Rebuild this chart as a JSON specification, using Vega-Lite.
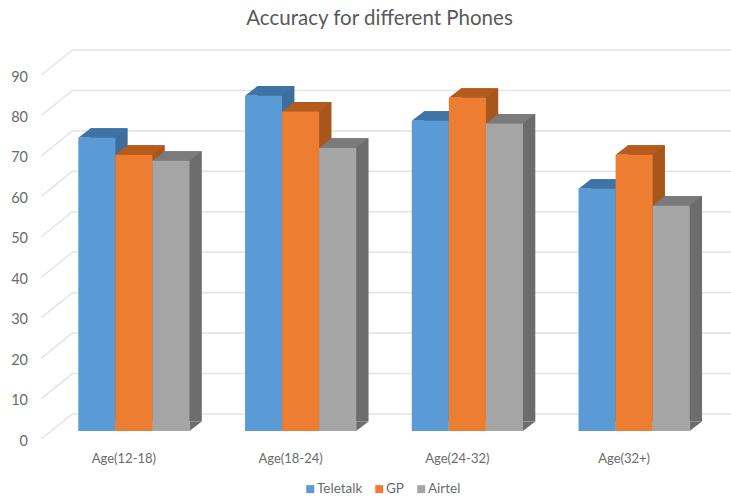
{
  "$schema": "https://vega.github.io/schema/vega-lite/v6.json",
  "width": 667,
  "height": 364,
  "autosize": {"type": "none"},
  "padding": {"left": 50.5, "top": 67, "right": 13.5, "bottom": 66},
  "background": "white",
  "config": {"view": {"stroke": null}, "font": "Lato"},
  "title": {
    "text": "Accuracy for different Phones",
    "font": "Lato",
    "fontSize": 20.5,
    "fontWeight": "normal",
    "color": "#595959",
    "anchor": "middle",
    "dx": -4.5,
    "offset": 18
  },
  "datasets": {
    "accuracy": [
      {"age": "Age(12-18)", "phone": "Teletalk", "accuracy": 72.5},
      {"age": "Age(12-18)", "phone": "GP", "accuracy": 68.3},
      {"age": "Age(12-18)", "phone": "Airtel", "accuracy": 66.8},
      {"age": "Age(18-24)", "phone": "Teletalk", "accuracy": 82.9},
      {"age": "Age(18-24)", "phone": "GP", "accuracy": 79},
      {"age": "Age(18-24)", "phone": "Airtel", "accuracy": 70},
      {"age": "Age(24-32)", "phone": "Teletalk", "accuracy": 76.7},
      {"age": "Age(24-32)", "phone": "GP", "accuracy": 82.4},
      {"age": "Age(24-32)", "phone": "Airtel", "accuracy": 76},
      {"age": "Age(32+)", "phone": "Teletalk", "accuracy": 59.9},
      {"age": "Age(32+)", "phone": "GP", "accuracy": 68.3},
      {"age": "Age(32+)", "phone": "Airtel", "accuracy": 55.7}
    ],
    "gridLevels": [
      {"level": 0}, {"level": 10}, {"level": 20}, {"level": 30}, {"level": 40},
      {"level": 50}, {"level": 60}, {"level": 70}, {"level": 80}, {"level": 90}
    ]
  },
  "resolve": {"scale": {"color": "independent", "xOffset": "independent"}},
  "layer": [
    {
      "description": "Wall and floor grid lines, one polyline per level",
      "data": {"name": "gridLevels"},
      "mark": {
        "type": "point",
        "shape": "M-92.5,8L-61.5,-17L597.5,-17",
        "size": 4,
        "filled": false,
        "stroke": "#e4e4e4",
        "strokeWidth": 1.5,
        "opacity": 1
      },
      "encoding": {
        "x": {"datum": "Age(12-18)", "type": "nominal", "scale": {"domain": ["Age(12-18)", "Age(18-24)", "Age(24-32)", "Age(32+)"], "paddingInner": 0.3333, "paddingOuter": 0.1667},
          "axis": {"title": null, "domain": false, "ticks": false, "labelAngle": 0, "labelOffset": -10, "labelPadding": 21, "labelFontSize": 13, "labelColor": "#6b6b6b", "labelFont": "Lato"}},
        "y": {"field": "level", "type": "quantitative", "scale": {"domain": [0, 90], "nice": false},
          "axis": {"title": null, "domain": false, "ticks": false, "grid": false, "values": [0, 10, 20, 30, 40, 50, 60, 70, 80, 90], "labelOffset": 10, "labelPadding": 23, "labelFontSize": 14.5, "labelColor": "#6b6b6b", "labelFont": "Lato"}}
      }
    },
    {
      "description": "Back slab of each column; shows as the shaded right side",
      "data": {"name": "accuracy"},
      "mark": {"type": "bar", "yOffset": -9.6, "y2Offset": -9.6},
      "encoding": {
        "x": {"field": "age", "type": "nominal"},
        "xOffset": {"field": "phone", "type": "nominal", "sort": ["Teletalk", "GP", "Airtel"], "scale": {"domain": ["Teletalk", "GP", "Airtel"], "range": [12.3, 123.5]}},
        "y": {"field": "accuracy", "type": "quantitative"},
        "color": {"field": "phone", "type": "nominal", "legend": null,
          "scale": {"domain": ["Teletalk", "GP", "Airtel"], "range": ["#3d6e9e", "#a9561d", "#6c6c6c"]}}
      }
    },
    {
      "description": "Triangle closing the foot of each side face",
      "data": {"name": "accuracy"},
      "mark": {"type": "point", "shape": "M18.5,0L18.5,-9.6L30.8,-9.6Z", "size": 4, "filled": true, "opacity": 1},
      "encoding": {
        "x": {"field": "age", "type": "nominal"},
        "xOffset": {"field": "phone", "type": "nominal", "sort": ["Teletalk", "GP", "Airtel"]},
        "y": {"datum": 0, "type": "quantitative"},
        "color": {"field": "phone", "type": "nominal", "legend": null,
          "scale": {"domain": ["Teletalk", "GP", "Airtel"], "range": ["#3d6e9e", "#a9561d", "#6c6c6c"]}}
      }
    },
    {
      "description": "Top face of each column",
      "data": {"name": "accuracy"},
      "mark": {"type": "point", "shape": "M-18.5,0L-6.2,-9.6L30.8,-9.6L18.5,0Z", "size": 4, "filled": true, "opacity": 1},
      "encoding": {
        "x": {"field": "age", "type": "nominal"},
        "xOffset": {"field": "phone", "type": "nominal", "sort": ["Teletalk", "GP", "Airtel"]},
        "y": {"field": "accuracy", "type": "quantitative"},
        "color": {"field": "phone", "type": "nominal", "legend": null,
          "scale": {"domain": ["Teletalk", "GP", "Airtel"], "range": ["#3f73a6", "#b65b1e", "#7b7b7b"]}}
      }
    },
    {
      "description": "Front face of each column",
      "data": {"name": "accuracy"},
      "mark": {"type": "bar"},
      "encoding": {
        "x": {"field": "age", "type": "nominal"},
        "xOffset": {"field": "phone", "type": "nominal", "sort": ["Teletalk", "GP", "Airtel"]},
        "y": {"field": "accuracy", "type": "quantitative"},
        "color": {"field": "phone", "type": "nominal",
          "scale": {"domain": ["Teletalk", "GP", "Airtel"], "range": ["#5b9bd5", "#ed7d31", "#a5a5a5"]},
          "legend": {
            "title": null,
            "orient": "none",
            "direction": "horizontal",
            "legendX": 253,
            "legendY": 415,
            "symbolType": "square",
            "symbolSize": 64,
            "symbolStrokeWidth": 0,
            "labelFontSize": 13.5,
            "labelColor": "#6b6b6b",
            "labelFont": "Lato",
            "columnPadding": 10,
            "labelOffset": 0
          }
        }
      }
    }
  ]
}
